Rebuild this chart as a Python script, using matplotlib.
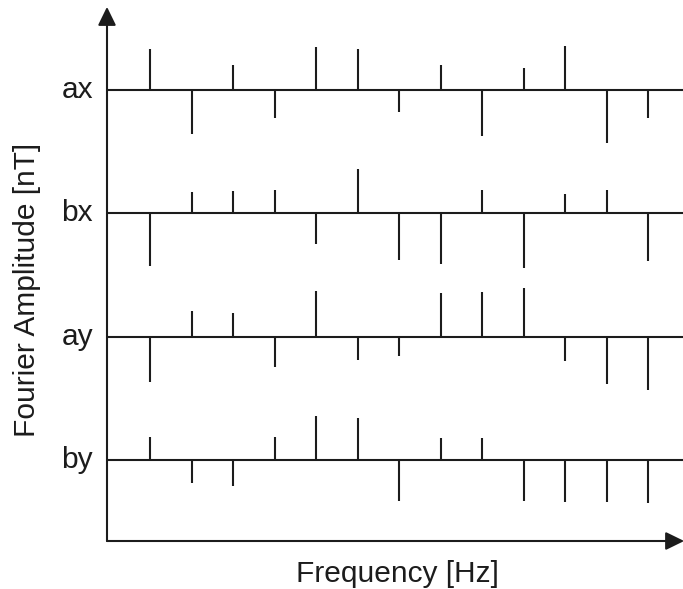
"""Schematic Fourier amplitude spectra for the four field components."""

import matplotlib

matplotlib.use("Agg")
import matplotlib.pyplot as plt
import numpy as np

# component names, top to bottom
components = ["ax", "bx", "ay", "by"]

# frequency bin index of each line (arbitrary units, evenly spaced)
freq_bins = np.arange(1, 14)

# signed amplitudes (arbitrary nT units)
amp_ax = [4.1, -4.4, 2.5, -2.8, 4.3, 4.1, -2.2, 2.5, -4.6, 2.2, 4.4, -5.3, -2.8]
amp_bx = [-5.3, 2.1, 2.2, 2.3, -3.1, 4.4, -4.7, -5.1, 2.3, -5.5, 1.9, 2.3, -4.8]
amp_ay = [-4.5, 2.6, 2.4, -3.0, 4.6, -2.3, -1.9, 4.4, 4.5, 4.9, -2.4, -4.7, -5.3]
amp_by = [2.3, -2.3, -2.6, 2.3, 4.4, 4.2, -4.1, 2.2, 2.2, -4.1, -4.2, -4.2, -4.3]

INK = "#1c1c1c"
FONT = "Liberation Sans"
FS = 21.5

W, H = 683, 589
fig = plt.figure(figsize=(W / 100, H / 100), dpi=100)
ax = fig.add_axes([107 / W, 48 / H, 576 / W, 532 / H])
ax.set_xlim(-0.04, 13.84)
ax.set_ylim(0, 53.2)
ax.axis("off")

# vertical offset of each component's baseline
row_gap = 12.33
offsets = [8.1 + row_gap * (len(components) - 1 - k) for k in range(len(components))]

for name, amps, off in zip(components, [amp_ax, amp_bx, amp_ay, amp_by], offsets):
    ax.axhline(off, xmin=0, xmax=1, color=INK, lw=1.5, zorder=2)
    ax.vlines(freq_bins, off, off + np.asarray(amps), color=INK, lw=1.5, zorder=2)
    ax.annotate(name, xy=(0, off), xycoords=("axes fraction", "data"),
                xytext=(-14, -8), textcoords="offset pixels",
                ha="right", va="baseline", fontsize=FS, family=FONT, color=INK)

# axes drawn as arrows
arrow = dict(arrowstyle="-|>,head_length=0.45,head_width=0.22", lw=1.5,
             color=INK, mutation_scale=25, shrinkA=0, shrinkB=0)
ax.annotate("", xy=(0, 1.004), xytext=(0, 0), xycoords="axes fraction",
            arrowprops=arrow, annotation_clip=False)
ax.annotate("", xy=(1.002, 0), xytext=(0, 0), xycoords="axes fraction",
            arrowprops=arrow, annotation_clip=False)

fig.text(27 / W, 299 / H, "Fourier Amplitude [nT]", rotation=90,
         ha="center", va="center", fontsize=FS, family=FONT, color=INK)
fig.text(397 / W, 7 / H, "Frequency [Hz]", ha="center", va="baseline",
         fontsize=FS, family=FONT, color=INK)

fig.savefig("out.png", dpi=100)
